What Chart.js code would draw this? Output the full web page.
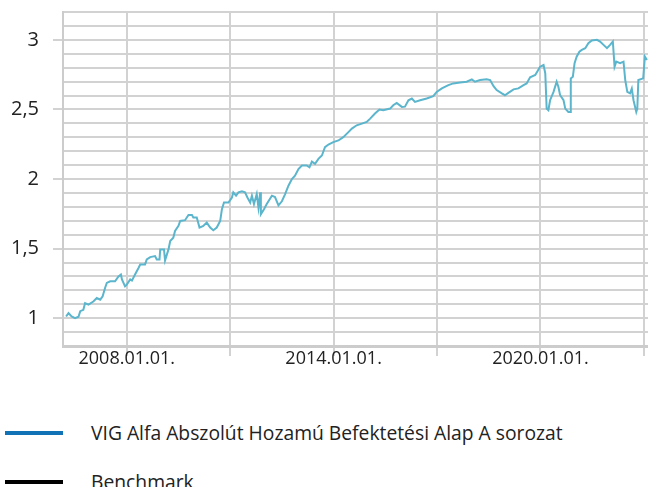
<!DOCTYPE html>
<html>
<head>
<meta charset="utf-8">
<script src="https://cdn.jsdelivr.net/npm/chart.js@4.4.0/dist/chart.umd.min.js"></script>
<style>
  body { margin: 0; background: #fff; font-family: "Open Sans", sans-serif; color: #222; }
  #wrap { position: relative; width: 648px; height: 385px; }
  #legend { position: absolute; left: 0; top: 385px; width: 648px; }
  .item { position: absolute; left: 0; height: 26px; width: 648px; }
  .item .swatch { position: absolute; left: 5px; top: 11px; width: 58px; height: 4px; }
  .item .label { position: absolute; left: 91px; top: 0; font-size: 19.3px; line-height: 26px; white-space: nowrap; }
</style>
</head>
<body>
<div id="wrap"><canvas id="chart" width="648" height="385"></canvas></div>
<div id="legend"></div>
<script>
// Series names + legend colours
const seriesNames = ['VIG Alfa Abszolút Hozamú Befektetési Alap A sorozat', 'Benchmark'];
const legendColors = ['#1172b6', '#000000'];

// dates as decimal years
const fundDates = [
  2006.24, 2006.31, 2006.40, 2006.50, 2006.60, 2006.65, 2006.74, 2006.79, 2006.89, 2007.03,
  2007.13, 2007.23, 2007.30, 2007.37, 2007.42, 2007.52, 2007.66, 2007.76, 2007.83, 2007.86,
  2007.95, 2008.00, 2008.10, 2008.15, 2008.24, 2008.34, 2008.39, 2008.53, 2008.58, 2008.68,
  2008.82, 2008.87, 2008.95, 2008.97, 2009.08, 2009.11, 2009.21, 2009.26, 2009.35, 2009.40,
  2009.50, 2009.55, 2009.69, 2009.79, 2009.89, 2009.93, 2010.03, 2010.11, 2010.22, 2010.32,
  2010.42, 2010.51, 2010.61, 2010.71, 2010.76, 2010.82, 2010.95, 2011.05, 2011.09, 2011.17,
  2011.24, 2011.34, 2011.43, 2011.50, 2011.58, 2011.63, 2011.69, 2011.77, 2011.82, 2011.87,
  2011.89, 2011.98, 2012.06, 2012.21, 2012.30, 2012.40, 2012.50, 2012.59, 2012.69, 2012.79,
  2012.88, 2012.98, 2013.08, 2013.22, 2013.30, 2013.37, 2013.46, 2013.56, 2013.66, 2013.75,
  2013.85, 2013.99, 2014.14, 2014.28, 2014.43, 2014.53, 2014.67, 2014.82, 2014.96, 2015.06,
  2015.20, 2015.33, 2015.44, 2015.64, 2015.73, 2015.83, 2015.98, 2016.07, 2016.17, 2016.27,
  2016.36, 2016.51, 2016.70, 2016.89, 2016.99, 2017.14, 2017.33, 2017.47, 2017.67, 2017.86,
  2018.01, 2018.10, 2018.25, 2018.44, 2018.54, 2018.64, 2018.73, 2018.88, 2018.97, 2019.07,
  2019.22, 2019.36, 2019.51, 2019.60, 2019.70, 2019.85, 2019.99, 2020.09, 2020.14, 2020.18,
  2020.23, 2020.28, 2020.38, 2020.47, 2020.52, 2020.57, 2020.67, 2020.72, 2020.81, 2020.86,
  2020.88, 2020.94, 2020.99, 2021.05, 2021.13, 2021.20, 2021.30, 2021.39, 2021.49, 2021.64,
  2021.73, 2021.83, 2021.93, 2022.02, 2022.10, 2022.15, 2022.20, 2022.31, 2022.41, 2022.46,
  2022.52, 2022.60, 2022.65, 2022.70, 2022.78, 2022.81, 2022.84, 2022.98, 2023.03, 2023.09
];
const fundValues = [
  1.012, 1.036, 1.012, 1.000, 1.010, 1.050, 1.060, 1.108, 1.097, 1.120,
  1.145, 1.133, 1.157, 1.217, 1.253, 1.265, 1.265, 1.300, 1.314, 1.278,
  1.229, 1.241, 1.278, 1.270, 1.314, 1.361, 1.386, 1.386, 1.422, 1.439,
  1.446, 1.422, 1.422, 1.494, 1.494, 1.415, 1.494, 1.554, 1.578, 1.627,
  1.663, 1.699, 1.704, 1.742, 1.742, 1.723, 1.723, 1.651, 1.663, 1.687,
  1.651, 1.632, 1.651, 1.699, 1.783, 1.831, 1.831, 1.867, 1.904, 1.880,
  1.904, 1.911, 1.904, 1.867, 1.831, 1.880, 1.820, 1.892, 1.795, 1.904,
  1.747, 1.783, 1.820, 1.880, 1.870, 1.810, 1.840, 1.890, 1.952, 2.000,
  2.024, 2.072, 2.097, 2.097, 2.084, 2.125, 2.109, 2.145, 2.169, 2.229,
  2.248, 2.265, 2.277, 2.301, 2.337, 2.362, 2.386, 2.398, 2.410, 2.434,
  2.470, 2.499, 2.494, 2.506, 2.530, 2.547, 2.518, 2.520, 2.566, 2.578,
  2.554, 2.566, 2.578, 2.595, 2.626, 2.651, 2.675, 2.687, 2.694, 2.699,
  2.716, 2.699, 2.711, 2.716, 2.711, 2.667, 2.639, 2.615, 2.602, 2.619,
  2.644, 2.651, 2.675, 2.687, 2.731, 2.747, 2.807, 2.819, 2.759, 2.506,
  2.494, 2.566, 2.626, 2.699, 2.663, 2.602, 2.566, 2.506, 2.482, 2.482,
  2.723, 2.735, 2.832, 2.879, 2.915, 2.928, 2.940, 2.976, 2.995, 3.000,
  2.988, 2.964, 2.940, 2.964, 2.988, 2.807, 2.843, 2.832, 2.843, 2.711,
  2.626, 2.615, 2.650, 2.566, 2.482, 2.506, 2.711, 2.723, 2.879, 2.855
];
const benchmarkValues = []; // no benchmark line visible

// axis ticks
const xGridYears = [2008, 2011, 2014, 2017, 2020, 2023];
const xLabelYears = [2008, 2014, 2020];
const yLabelValues = [1, 1.5, 2, 2.5, 3];
const X_MIN = 2006.15, X_MAX = 2023.12;
const Y_MIN = 0.8, Y_MAX = 3.2, Y_STEP = 0.1;

const gridColor = '#d2d2d2';

// legend
const legendDiv = document.getElementById('legend');
seriesNames.forEach((name, i) => {
  const top = [35, 84][i];
  legendDiv.innerHTML += `<div class="item" style="top:${top}px"><div class="swatch" style="background:${legendColors[i]}"></div><div class="label">${name}</div></div>`;
});

const ctx = document.getElementById('chart').getContext('2d');
window.fundChart = new Chart(ctx, {
  type: 'line',
  data: {
    datasets: [
      { label: seriesNames[0], data: fundDates.map((d, i) => ({ x: d, y: fundValues[i] })),
        borderColor: '#5bb5cc', borderWidth: 2, pointRadius: 0, tension: 0 },
      { label: seriesNames[1], data: benchmarkValues,
        borderColor: '#000', borderWidth: 2, pointRadius: 0 }
    ]
  },
  options: {
    responsive: false,
    animation: false,
    devicePixelRatio: 1,
    layout: { padding: { top: 12, right: 0, left: 0, bottom: 0 } },
    plugins: { legend: { display: false }, tooltip: { enabled: false } },
    scales: {
      x: {
        type: 'linear', min: X_MIN, max: X_MAX,
        afterBuildTicks: s => { s.ticks = xGridYears.map(v => ({ value: v })); },
        afterFit: s => { s.height = 39; s.paddingLeft = 0; s.paddingRight = 0; },
        grid: { color: gridColor, lineWidth: 2, tickLength: 10, tickColor: gridColor },
        border: { color: '#cccccc', width: 3 },
        ticks: {
          autoSkip: false, maxRotation: 0, padding: -8,
          color: '#222', font: { family: 'Open Sans', size: 18 },
          callback: v => xLabelYears.includes(v) ? v + '.01.01.' : ''
        }
      },
      y: {
        min: Y_MIN, max: Y_MAX,
        afterBuildTicks: s => {
          const t = [];
          for (let v = Y_MIN; v <= Y_MAX + 1e-9; v += Y_STEP) t.push({ value: Math.round(v * 10) / 10 });
          s.ticks = t;
        },
        afterFit: s => { s.width = 63; s.paddingTop = 0; s.paddingBottom = 0; },
        grid: {
          color: gridColor, lineWidth: 2, tickLength: 10,
          tickColor: c => yLabelValues.includes(c.tick.value) ? gridColor : 'rgba(0,0,0,0)'
        },
        border: { color: '#cccccc', width: 2 },
        ticks: {
          autoSkip: false, padding: 14,
          color: '#222', font: { family: 'Open Sans', size: 20 },
          callback: v => yLabelValues.includes(v) ? String(v).replace('.', ',') : ''
        }
      }
    }
  }
});
</script>
</body>
</html>
